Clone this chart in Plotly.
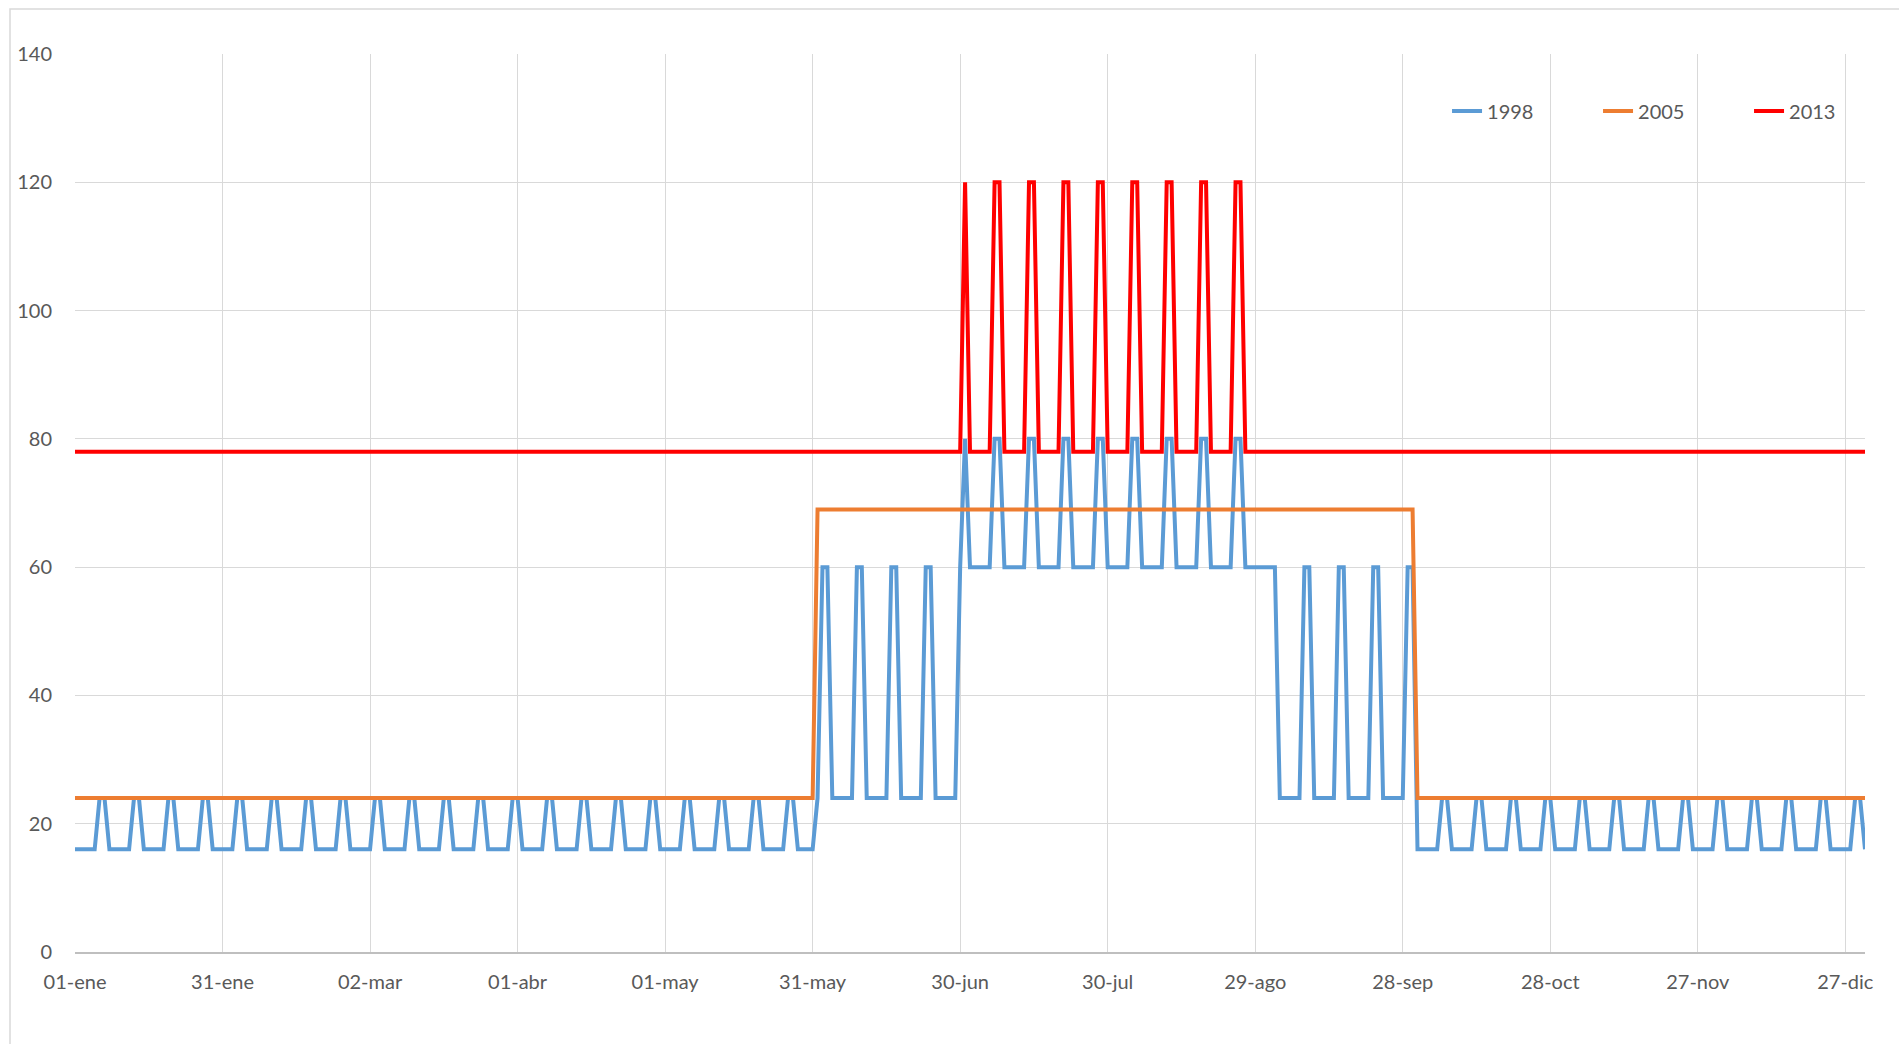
import datetime as dt
import plotly.graph_objects as go

# Daily tariff values for one calendar year, stored as runs of (value, number of days)
year_start = dt.date(2018, 1, 1)

runs_1998 = [
    (16, 5),
    (24, 2), (16, 5), (24, 2), (16, 5), (24, 2), (16, 5), (24, 2), (16, 5),
    (24, 2), (16, 5), (24, 2), (16, 5), (24, 2), (16, 5), (24, 2), (16, 5),
    (24, 2), (16, 5), (24, 2), (16, 5), (24, 2), (16, 5), (24, 2), (16, 5),
    (24, 2), (16, 5), (24, 2), (16, 5), (24, 2), (16, 5), (24, 2), (16, 5),
    (24, 2), (16, 5), (24, 2), (16, 5), (24, 2), (16, 5), (24, 2), (16, 5),
    (24, 2), (16, 4),
    # June
    (24, 1), (60, 2), (24, 5), (60, 2), (24, 5), (60, 2), (24, 5), (60, 2), (24, 5),
    (60, 1),
    # July - August
    (80, 1), (60, 5), (80, 2), (60, 5), (80, 2), (60, 5), (80, 2), (60, 5), (80, 2),
    (60, 5), (80, 2), (60, 5), (80, 2), (60, 5), (80, 2), (60, 5), (80, 2),
    # September
    (60, 7), (24, 5), (60, 2), (24, 5), (60, 2), (24, 5), (60, 2), (24, 5), (60, 2),
    # October - December
    (16, 5), (24, 2), (16, 5), (24, 2), (16, 5), (24, 2), (16, 5), (24, 2), (16, 5),
    (24, 2), (16, 5), (24, 2), (16, 5), (24, 2), (16, 5), (24, 2), (16, 5),
    (24, 2), (16, 5), (24, 2), (16, 5), (24, 2), (16, 5), (24, 2), (16, 5),
    (24, 2), (16, 1),
]

runs_2005 = [(24, 151), (69, 122), (24, 92)]

runs_2013 = [
    (78, 181),
    (120, 1), (78, 5), (120, 2), (78, 5), (120, 2), (78, 5), (120, 2), (78, 5),
    (120, 2), (78, 5), (120, 2), (78, 5), (120, 2), (78, 5), (120, 2), (78, 5),
    (120, 2),
    (78, 127),
]

tick_dates = ["2018-01-01", "2018-01-31", "2018-03-02", "2018-04-01", "2018-05-01",
              "2018-05-31", "2018-06-30", "2018-07-30", "2018-08-29", "2018-09-28",
              "2018-10-28", "2018-11-27", "2018-12-27"]
tick_labels = ["01-ene", "31-ene", "02-mar", "01-abr", "01-may", "31-may", "30-jun",
               "30-jul", "29-ago", "28-sep", "28-oct", "27-nov", "27-dic"]

series = [
    ("1998", runs_1998, "#5B9BD5"),
    ("2005", runs_2005, "#ED7D31"),
    ("2013", runs_2013, "#FF0000"),
]


def expand(runs):
    vals = []
    for value, count in runs:
        vals.extend([value] * count)
    return vals


fig = go.Figure()
for name, runs, color in series:
    y = expand(runs)
    x = [year_start + dt.timedelta(days=i) for i in range(len(y))]
    fig.add_trace(go.Scatter(
        x=x, y=y, mode="lines", name=name,
        line=dict(color=color, width=4, shape="linear"),
    ))

FONT = "Lato"
GRID = "#D9D9D9"
TEXT = "#595959"

fig.update_layout(
    width=1899, height=1044,
    margin=dict(l=75, r=34, t=54, b=92, autoexpand=False),
    paper_bgcolor="white", plot_bgcolor="white",
    font=dict(family=FONT, size=20, color=TEXT),
    showlegend=True,
    legend=dict(
        orientation="h", x=0.7665, xanchor="left", y=0.9365, yanchor="middle",
        bgcolor="rgba(0,0,0,0)", font=dict(family=FONT, size=20, color=TEXT),
        entrywidth=106, entrywidthmode="pixels", traceorder="normal",
    ),
    xaxis=dict(
        type="date", range=["2018-01-01", "2018-12-31"],
        tickmode="array", tickvals=tick_dates, ticktext=tick_labels,
        showgrid=True, gridcolor=GRID, gridwidth=1,
        showline=True, linecolor="#BFBFBF", linewidth=1.5,
        ticks="outside", ticklen=11, tickcolor="rgba(0,0,0,0)",
        zeroline=False,
    ),
    yaxis=dict(
        range=[0, 140], tick0=0, dtick=20,
        showgrid=True, gridcolor=GRID, gridwidth=1,
        showline=False, zeroline=False,
        ticks="outside", ticklen=18, tickcolor="rgba(0,0,0,0)",
    ),
    shapes=[
        # light chart-area frame
        dict(type="rect", xref="paper", yref="paper",
             x0=(10 - 75) / 1790, x1=1.2, y0=-0.3, y1=(952 - 9) / 898,
             line=dict(color=GRID, width=1.5), fillcolor="rgba(0,0,0,0)",
             layer="below"),
    ],
)

fig.write_html("out.html")
